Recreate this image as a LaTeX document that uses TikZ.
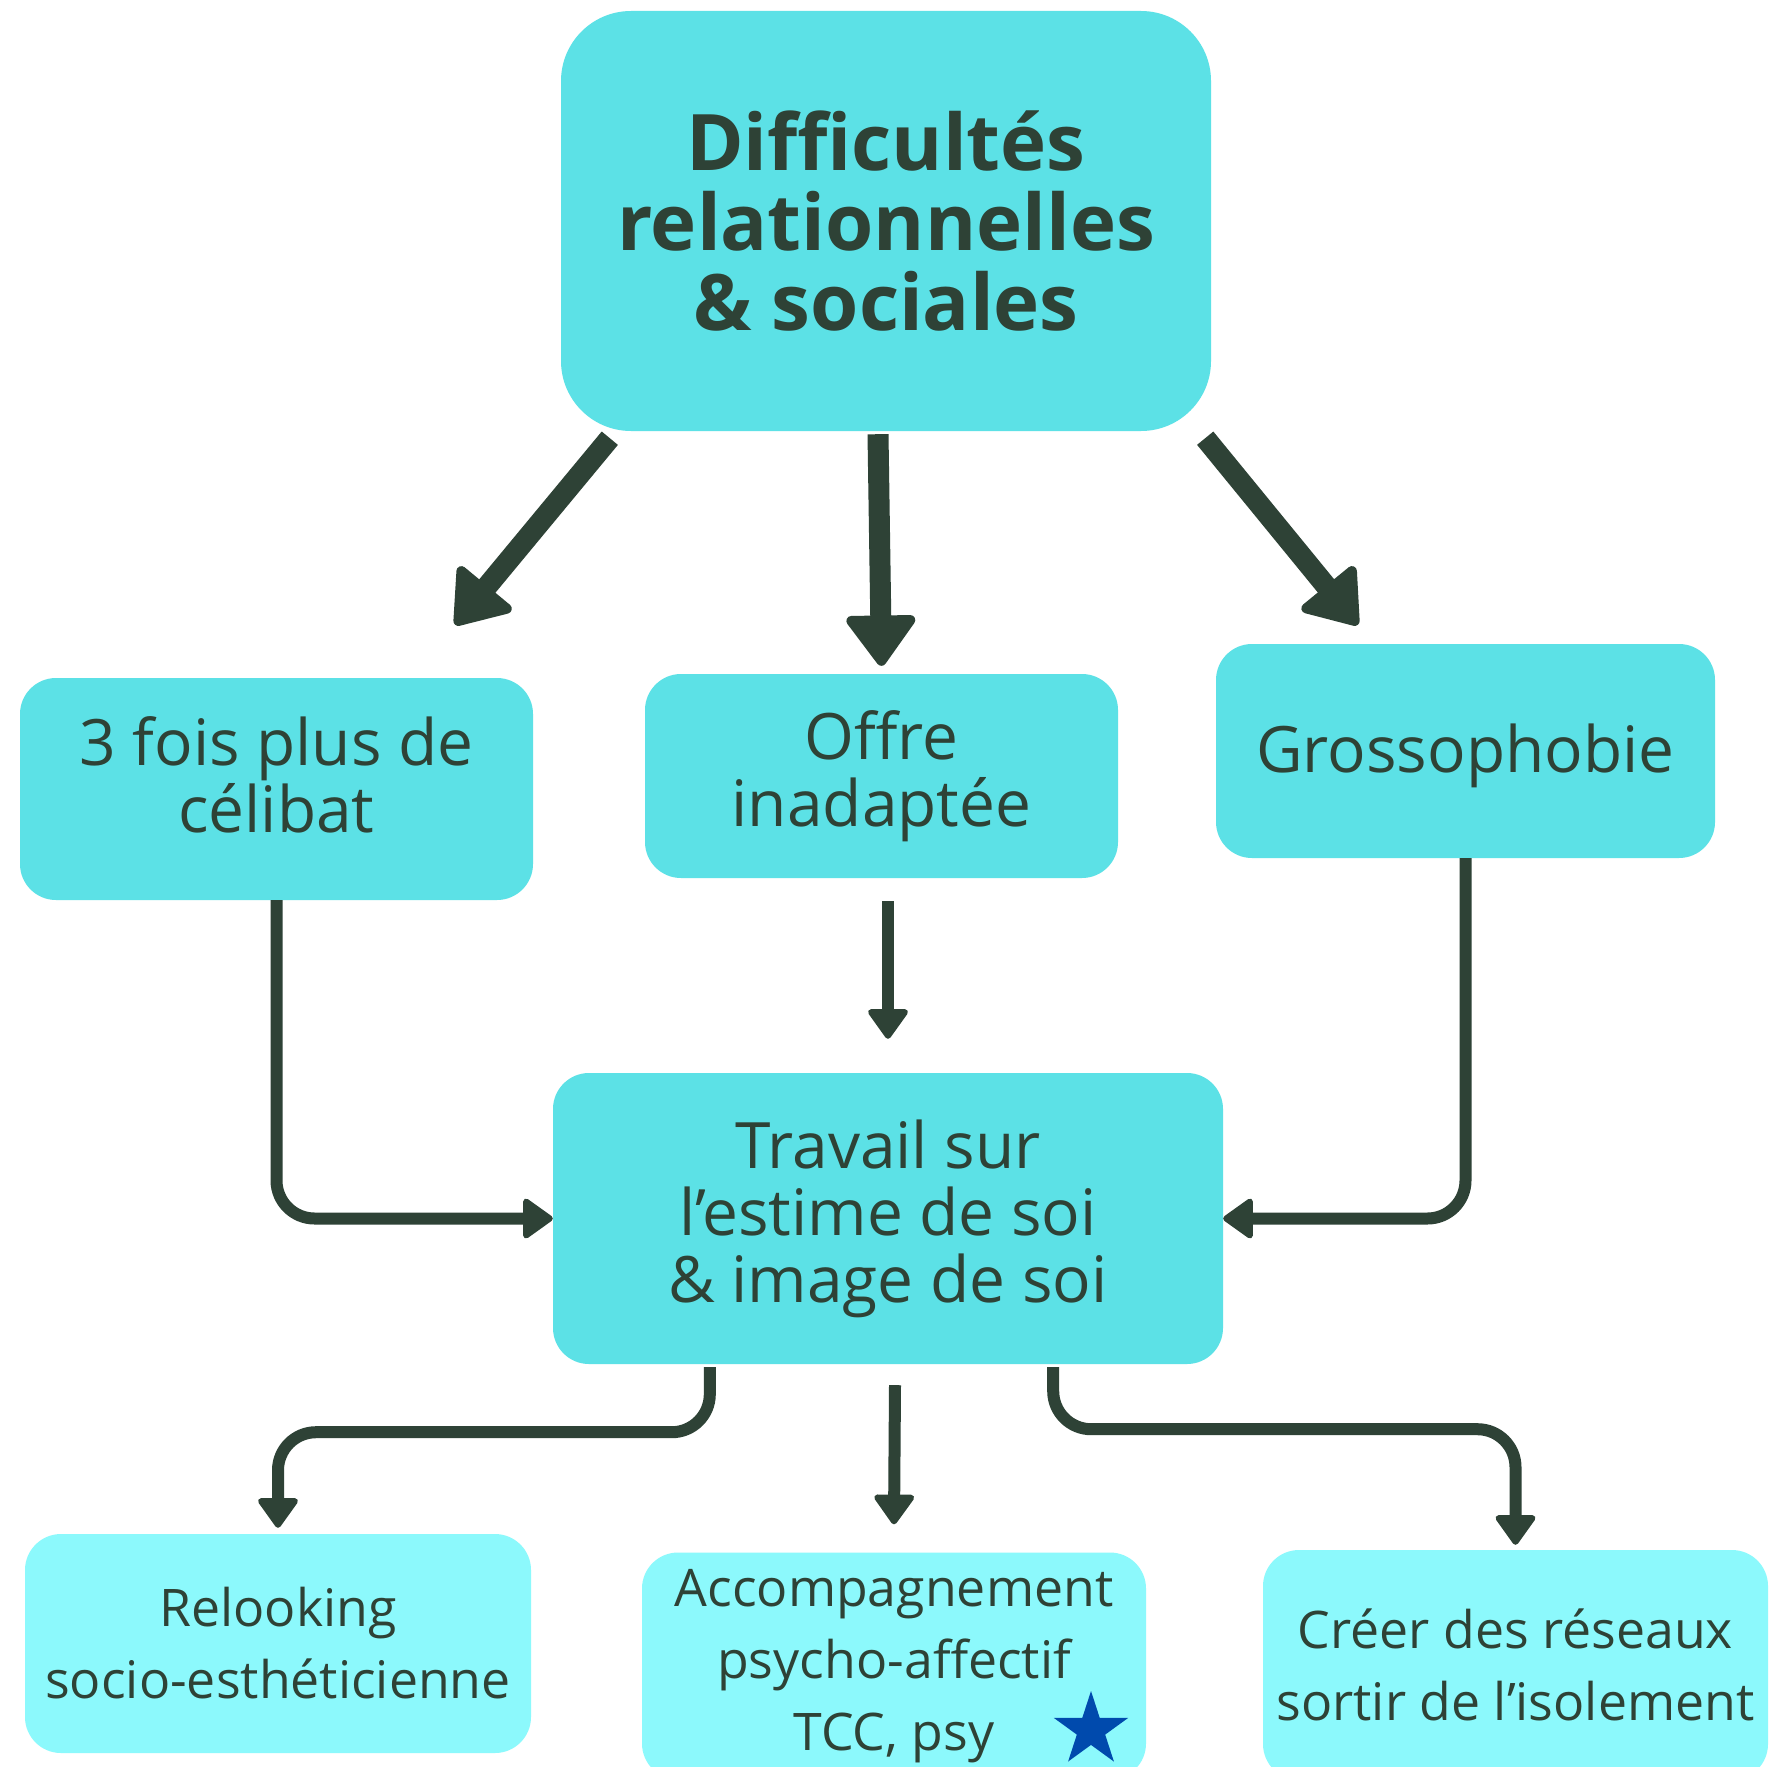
\documentclass[tikz,border=0pt]{standalone}
\usepackage{fontspec}
\setmainfont{Open Sans}
\usepackage{tikz}
\usetikzlibrary{arrows.meta, shapes.geometric}
\definecolor{boxcyan}{RGB}{92, 225, 230}
\definecolor{boxlight}{RGB}{140, 249, 252}
\definecolor{darkgreen}{RGB}{46, 66, 54}
\definecolor{starblue}{RGB}{0, 74, 173}
\tikzset{
    box/.style={rectangle, rounded corners=36pt, fill=boxcyan, text=darkgreen, align=center, inner sep=0pt},
    titlebox/.style={box, rounded corners=70pt, font=\fontsize{78}{80}\selectfont\bfseries},
    midbox/.style={box, font=\fontsize{64}{67}\selectfont},
    lowbox/.style={box, fill=boxlight, font=\fontsize{51.8}{72}\selectfont},
    bigarrow/.style={draw=darkgreen, line width=21pt, -{Triangle[round, length=54pt, width=76pt, line width=10pt]}},
    thinarrow/.style={draw=darkgreen, line width=12pt, rounded corners=38pt, -{Triangle[round, length=32pt, width=44pt, line width=6pt]}}
}

\begin{document}
\begin{tikzpicture}[x=1pt, y=-1pt]
    \clip (0,0) rectangle (1771,1766);
    \fill[white] (0,0) rectangle (1771,1766);
    % top
    \node[titlebox, minimum width=650, minimum height=420] (diff) at (886,221)
        {Difficultés\\relationnelles\\\& sociales};
    % middle row
    \node[midbox, minimum width=513, minimum height=222, text depth=28pt] (celibat) at (276.5,789) {3 fois plus de\\célibat};
    \node[midbox, minimum width=473, minimum height=204] (offre) at (881.5,776) {Offre\\inadaptée};
    \node[midbox, minimum width=499, minimum height=214, text height=58pt] (gros) at (1465.5,751) {Grossophobie};
    \node[midbox, minimum width=670, minimum height=291] (travail) at (888,1218.5)
        {Travail sur\\l’estime de soi\\\& image de soi};
    % bottom row
    \node[lowbox, minimum width=506, minimum height=219] (relook) at (278,1643.5) {Relooking\\socio-esthéticienne};
    \node[lowbox, minimum width=504, minimum height=227] (accomp) at (894,1666)
        {Accompagnement\\psycho-affectif\\TCC, psy};
    \node[lowbox, minimum width=505, minimum height=230] (creer) at (1515.5,1665)
        {Créer des réseaux\\sortir de l’isolement};
    \node[star, star points=5, star point ratio=2.618, fill=starblue, inner sep=0pt, minimum size=78pt] (etoile) at (1091,1730) {};

    % arrows
    \draw[bigarrow] ([shift={(49,7)}]diff.south west) -- ([shift={(-78,-53)}]celibat.north east);
    \draw[bigarrow] ([shift={(-8,3)}]diff.south) -- ([shift={(0,-8)}]offre.north);
    \draw[bigarrow] ([shift={(-6,7)}]diff.south east) -- ([shift={(142,-19)}]gros.north west);
    \draw[thinarrow] ([shift={(6.5,23)}]offre.south) -- ([shift={(0,-34)}]travail.north);
    \draw[thinarrow] (celibat.south) |- (travail.west);
    \draw[thinarrow] (gros.south) |- (travail.east);
    \draw[thinarrow] ([shift={(157,3)}]travail.south west) -- ++(0,65) -| ([shift={(0,-6)}]relook.north);
    \draw[thinarrow] ([shift={(7,21)}]travail.south) -- ([shift={(0,-28)}]accomp.north);
    \draw[thinarrow] ([shift={(-170,3)}]travail.south east) -- ++(0,62) -| ([shift={(0,-5)}]creer.north);
\end{tikzpicture}
\end{document}
